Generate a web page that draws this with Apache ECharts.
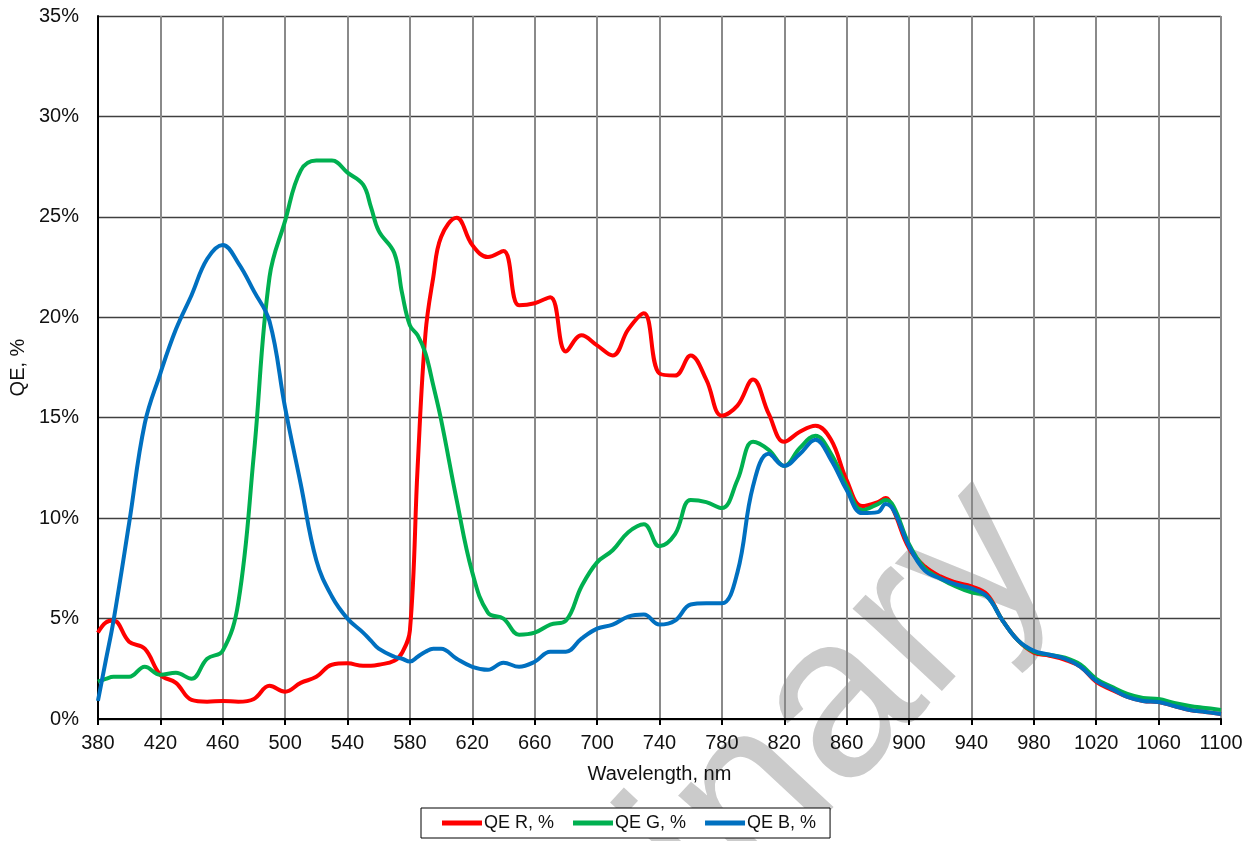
<!DOCTYPE html>
<html>
<head>
<meta charset="utf-8">
<title>QE spectrum</title>
<script src="https://cdn.jsdelivr.net/npm/echarts/dist/echarts.min.js"></script>
<style>
  html, body { margin: 0; padding: 0; background: #fff; }
  #main { width: 1257px; height: 841px; }
</style>
</head>
<body>
<div id="main"></div>
<script>
// wavelength, nm
var wavelengths = [380, 385, 390, 400, 410, 420, 430, 440, 450, 460, 470, 480, 490, 500, 510, 520, 530, 540, 550, 555,
  560, 570, 575, 580, 585, 590, 595, 600, 610, 620, 630, 640, 650, 660, 670, 680, 690, 700, 710, 720,
  730, 740, 750, 760, 770, 780, 790, 800, 810, 820, 830, 840, 850, 860, 870, 880, 885, 890, 900, 910,
  920, 930, 940, 950, 960, 970, 980, 990, 1000, 1010, 1020, 1030, 1040, 1050, 1060, 1070, 1080, 1090, 1100];

// QE values, %
var qeR = [4.3, 4.8, 4.9, 3.85, 3.5, 2.2, 1.8, 0.95, 0.86, 0.9, 0.86, 1.0, 1.65, 1.36, 1.8, 2.1, 2.7, 2.77, 2.65, 2.65,
  2.7, 2.9, 3.3, 4.4, 12.6, 19.2, 22.0, 24.0, 24.95, 23.6, 23.0, 23.3, 20.6, 20.7, 21.0, 18.3, 19.1, 18.6, 18.1, 19.4,
  20.2, 17.2, 17.1, 18.1, 16.9, 15.1, 15.6, 16.9, 15.2, 13.8, 14.3, 14.6, 13.9, 11.9, 10.6, 10.8, 11.0, 10.4, 8.5, 7.6,
  7.1, 6.8, 6.6, 6.2, 4.9, 3.9, 3.3, 3.15, 2.95, 2.6, 1.85, 1.45, 1.1, 0.9, 0.85, 0.65, 0.45, 0.35, 0.25];

var qeG = [1.86, 2.0, 2.1, 2.1, 2.6, 2.2, 2.3, 2.0, 3.0, 3.4, 5.8, 13.2, 22.0, 24.8, 27.3, 27.8, 27.8, 27.2, 26.6, 25.5,
  24.3, 23.2, 21.2, 19.6, 19.1, 18.2, 16.6, 14.9, 10.9, 7.3, 5.3, 5.0, 4.2, 4.3, 4.7, 4.9, 6.6, 7.8, 8.4, 9.3,
  9.7, 8.6, 9.2, 10.9, 10.8, 10.5, 11.9, 13.8, 13.4, 12.6, 13.5, 14.1, 13.2, 11.6, 10.4, 10.7, 10.9, 10.6, 8.7, 7.5,
  7.0, 6.6, 6.3, 6.1, 4.9, 3.9, 3.35, 3.2, 3.05, 2.7, 2.0, 1.6, 1.25, 1.05, 1.0, 0.8, 0.65, 0.55, 0.45];

var qeB = [0.9, 2.9, 4.9, 9.75, 14.7, 17.2, 19.4, 21.1, 22.9, 23.6, 22.7, 21.3, 19.8, 15.5, 11.7, 7.9, 6.1, 5.0, 4.3, 3.9,
  3.5, 3.1, 3.0, 2.86, 3.1, 3.35, 3.5, 3.5, 3.0, 2.6, 2.45, 2.8, 2.6, 2.85, 3.35, 3.35, 4.0, 4.5, 4.7, 5.1,
  5.2, 4.7, 4.9, 5.7, 5.76, 5.76, 7.3, 11.6, 13.2, 12.6, 13.2, 13.9, 12.9, 11.4, 10.25, 10.3, 10.7, 10.4, 8.6, 7.4,
  7.0, 6.7, 6.5, 6.1, 4.9, 3.9, 3.4, 3.2, 3.0, 2.6, 1.9, 1.5, 1.1, 0.9, 0.85, 0.65, 0.45, 0.35, 0.25];

var seriesNames = ['QE R, %', 'QE G, %', 'QE B, %'];
var seriesColors = ['#ff0000', '#00b050', '#0070c0'];

var font = 'Liberation Sans, Arial, sans-serif';

function pairs(ys) {
  var out = [];
  for (var i = 0; i < wavelengths.length; i++) {
    out.push([wavelengths[i], ys[i]]);
  }
  return out;
}

var chart = echarts.init(document.getElementById('main'));

var series = [qeR, qeG, qeB].map(function (ys, i) {
  return {
    name: seriesNames[i],
    type: 'line',
    data: pairs(ys),
    smooth: 0.4,
    symbol: 'none',
    z: 3 + i,
    color: seriesColors[i],
    lineStyle: { width: 4, color: seriesColors[i] }
  };
});

var option = {
  backgroundColor: '#fff',
  animation: false,
  textStyle: { fontFamily: font },
  grid: { left: 97, right: 36, top: 16, bottom: 122 },
  // watermark, behind everything
  graphic: [{
    type: 'text',
    z: -10,
    x: 623,
    y: 940,
    rotation: 47 * Math.PI / 180,
    style: {
      text: 'Preliminary',
      fontSize: 230,
      fontFamily: font,
      fill: '#cbcbcb',
      align: 'center',
      verticalAlign: 'middle'
    }
  }],
  xAxis: {
    type: 'value',
    min: 380,
    max: 1100,
    interval: 40,
    name: 'Wavelength, nm',
    nameLocation: 'middle',
    nameGap: 45,
    nameTextStyle: { fontSize: 20, color: '#111', fontFamily: font },
    axisLine: { lineStyle: { color: '#000', width: 2 } },
    axisTick: { show: true, length: 6, lineStyle: { color: '#000', width: 2 } },
    axisLabel: {
      fontSize: 20, color: '#111', margin: 14, fontFamily: font,
      formatter: function (v) { return String(v); }
    },
    splitLine: { show: true, lineStyle: { color: '#8a8a8a', width: 2 } }
  },
  yAxis: {
    type: 'value',
    min: 0,
    max: 35,
    interval: 5,
    name: 'QE, %',
    nameLocation: 'middle',
    nameGap: 66,
    nameTextStyle: { fontSize: 20, color: '#111', fontFamily: font },
    axisLine: { show: true, lineStyle: { color: '#000', width: 2 } },
    axisTick: { show: false },
    axisLabel: { fontSize: 20, color: '#111', margin: 19, formatter: '{value}%', fontFamily: font },
    splitLine: { show: true, lineStyle: { color: '#404040', width: 1.3 } }
  },
  legend: {
    data: seriesNames,
    left: 421,
    top: 808,
    orient: 'horizontal',
    icon: 'rect',
    itemWidth: 40,
    itemHeight: 5,
    itemGap: 19,
    padding: [6, 14, 6, 21],
    borderColor: '#000',
    borderWidth: 1,
    backgroundColor: '#fff',
    textStyle: { fontSize: 18, color: '#111', fontFamily: font, padding: [0, 0, 0, -3] }
  },
  series: series
};

chart.setOption(option);
</script>
</body>
</html>
